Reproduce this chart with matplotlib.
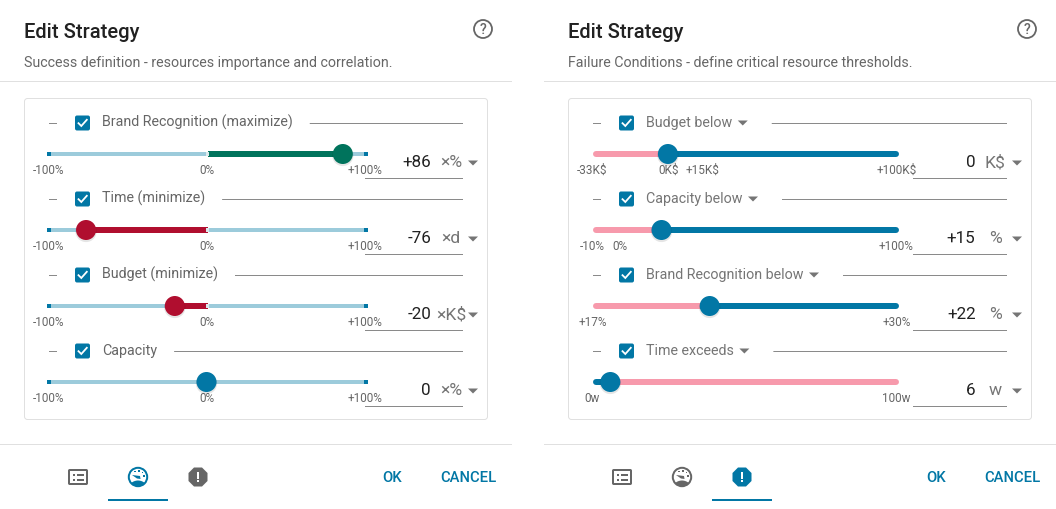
import matplotlib
matplotlib.use("Agg")
import matplotlib.pyplot as plt
from matplotlib.patches import FancyBboxPatch, Circle, Polygon, Rectangle, Wedge

plt.rcParams['font.family'] = ['Roboto', 'DejaVu Sans']

# ---- data ----
left_subtitle = "Success definition - resources importance and correlation."
right_subtitle = "Failure Conditions - define critical resource thresholds."

left_labels = ["Brand Recognition (maximize)", "Time (minimize)", "Budget (minimize)", "Capacity"]
left_values = [86, -76, -20, 0]
left_value_text = ["+86", "-76", "-20", "0"]
left_units = ["×%", "×d", "×K$", "×%"]
left_min = -100
left_max = 100
left_ticks = [-100, 0, 100]
left_tick_labels = ["-100%", "0%", "+100%"]

right_labels = ["Budget below", "Capacity below", "Brand Recognition below", "Time exceeds"]
right_values = [0, 15, 22, 6]
right_value_text = ["0", "+15", "+22", "6"]
right_units = ["K$", "%", "%", "w"]
right_mins = [-33, -10, 17, 0]
right_maxs = [100, 100, 30, 100]
right_ticks = [[-33, 0, 15, 100], [-10, 0, 100], [17, 30], [0, 100]]
right_tick_labels = [["-33K$", "0K$", "+15K$", "+100K$"], ["-10%", "0%", "+100%"],
                     ["+17%", "+30%"], ["0w", "100w"]]
right_reversed = [False, False, False, True]

BLUE = "#0277A5"; LIGHT = "#9CCBDB"; GREEN = "#00735C"; RED = "#B00E2F"; PINK = "#F79AAC"
DARK = "#212121"; GREY = "#666666"; MID = "#757575"; RULE = "#E0E0E0"; LINE = "#8A8A8A"

fig = plt.figure(figsize=(10.56, 5.09), dpi=100, facecolor="white")
ax = fig.add_axes([0, 0, 1, 1])
ax.set_xlim(0, 1056); ax.set_ylim(509, 0); ax.axis("off")
PX = 0.72


def txt(x, y, s, size, color=GREY, ha="left", weight="normal", **kw):
    return ax.text(x, y, s, fontsize=size * PX, color=color, ha=ha, va="center",
                   fontweight=weight, **kw)


def pixel_rule(x0, x1, row, color=LINE, z=1, h=1):
    r = Rectangle((x0, row), x1 - x0, h, fc=color, ec="none", zorder=z)
    r.set_snap(False)
    ax.add_patch(r)


def hline(x0, x1, y, color=LINE, lw=1.0, z=1, cap="butt"):
    ax.plot([x0, x1], [y, y], color=color, lw=lw * PX, solid_capstyle=cap, zorder=z)


def tri(cx, cy, color=MID):
    ax.add_patch(Polygon([(cx - 5, cy - 2.5), (cx + 5, cy - 2.5), (cx, cy + 2.5)],
                         fc=color, ec="none", zorder=3))


def checkbox(x, y):
    ax.add_patch(FancyBboxPatch((x + 1, y - 6.5), 13, 13, boxstyle="round,pad=1,rounding_size=2",
                                fc=BLUE, ec="none", zorder=3))
    ax.plot([x + 3.5, x + 6.3, x + 11.8], [y + 0.2, y + 3, y - 3.2], color="white",
            lw=1.8 * PX, zorder=4, solid_joinstyle="miter")


def thumb(x, y, color):
    ax.add_patch(Circle((x, y + 1.5), 10.6, fc="#000000", ec="none", alpha=0.10, zorder=5))
    ax.add_patch(Circle((x, y), 10, fc=color, ec="none", zorder=6))


def form_icon(cx, cy, c):
    ax.add_patch(FancyBboxPatch((cx - 9, cy - 7), 18, 14, boxstyle="round,pad=0,rounding_size=0.8",
                                fc="white", ec=c, lw=2 * PX, zorder=3))
    for yy in (-2, 2.5):
        hline(cx - 5.5, cx - 3.5, cy + yy, c, 2, 4)
        hline(cx - 1.5, cx + 5.5, cy + yy, c, 2, 4)


def gauge_icon(cx, cy, c):
    ring = Circle((cx, cy), 9.2, fc="white", ec=c, lw=2 * PX, zorder=3)
    ax.add_patch(ring)
    hill = Wedge((cx, cy + 14), 10.5, 225, 315, fc=c, ec="none", zorder=4)
    ax.add_patch(hill)
    hill.set_clip_path(Circle((cx, cy), 9.2, transform=ax.transData))
    ax.add_patch(Polygon([(cx - 6, cy - 2), (cx + 2, cy - 1), (cx + 2.5, cy + 2), (cx - 1, cy + 1.5)],
                         fc=c, ec="none", zorder=4))
    for dx, dy in [(-3, -5.5), (1, -6), (4.5, -4.5), (6, -1)]:
        ax.add_patch(Rectangle((cx + dx - .7, cy + dy - .7), 1.4, 1.4, fc=c, ec="none", zorder=4))


def alert_icon(cx, cy, c):
    r = 9.5; k = 4.0
    ax.add_patch(Polygon([(cx - k, cy - r), (cx + k, cy - r), (cx + r, cy - k), (cx + r, cy + k),
                          (cx + k, cy + r), (cx - k, cy + r), (cx - r, cy + k), (cx - r, cy - k)],
                         fc=c, ec="none", zorder=3))
    ax.add_patch(Rectangle((cx - 1, cy - 5.5), 2, 7, fc="white", ec="none", zorder=4))
    ax.add_patch(Rectangle((cx - 1, cy + 3), 2, 2, fc="white", ec="none", zorder=4))


def panel(x0, subtitle, active):
    txt(x0 + 24, 32.5, "Edit Strategy", 20.2, DARK, weight="medium")
    txt(x0 + 24, 62.5, subtitle, 14.3, GREY)
    ax.add_patch(Circle((x0 + 483, 29), 9, fc="white", ec=GREY, lw=1.8 * PX, zorder=2))
    txt(x0 + 483, 29.5, "?", 14, GREY, ha="center", weight="medium", zorder=3)
    pixel_rule(x0, x0 + 512, 81, RULE)
    pixel_rule(x0, x0 + 512, 444, RULE)
    ax.add_patch(FancyBboxPatch((x0 + 24.5, 98.5), 463, 321, boxstyle="round,pad=0,rounding_size=3",
                                fc="white", ec=RULE, lw=1 * PX, zorder=0))
    for i, fn in enumerate([form_icon, gauge_icon, alert_icon]):
        fn(x0 + 78 + 60 * i, 477, BLUE if i == active else GREY)
    ax.add_patch(Rectangle((x0 + 48 + 60 * active, 499), 60, 2, fc=BLUE, ec="none"))
    txt(x0 + 392.5, 477.5, "OK", 14.8, BLUE, ha="center", weight="medium")
    txt(x0 + 468.5, 477.5, "CANCEL", 14.8, BLUE, ha="center", weight="medium")


def text_width(s, size, weight="normal"):
    t = txt(0, 0, s, size, weight=weight)
    w = t.get_window_extent(fig.canvas.get_renderer()).width
    t.remove()
    return w


def row_common(x0, i, label, has_arrow, color):
    y = 122 + 76 * i
    pixel_rule(x0 + 49, x0 + 57, y + 1, LINE)
    checkbox(x0 + 75, y + 1)
    txt(x0 + 102, y + 0.8, label, 14.3, color)
    xe = x0 + 102 + text_width(label, 14.3)
    if has_arrow:
        tri(xe + 10.5, y + 1)
        xe += 22.5
    pixel_rule(xe + 17, x0 + 463, y + 1, LINE)


def value_box(x0, i, u0, val, unit, text_right, unit_x):
    y = 154 + 76 * i
    txt(x0 + text_right, y + 8.8, val, 17, DARK, ha="right")
    txt(x0 + unit_x, y + 8.8, unit, 17.5, MID, ha="center")
    tri(x0 + 473, y + 9)
    pixel_rule(x0 + u0, x0 + 463, y + 24, LINE)


# ---- left panel ----
panel(0, left_subtitle, 1)
LX0, LX1 = 49, 366
lsc = lambda v: LX0 + (v - left_min) / (left_max - left_min) * (LX1 - LX0)
left_colors = [GREEN if v > 0 else RED if v < 0 else BLUE for v in left_values]
for i, lab in enumerate(left_labels):
    row_common(0, i, lab, False, GREY)
    y = 154 + 76 * i
    hline(lsc(left_min), lsc(left_max), y, LIGHT, 4, 2)
    v = left_values[i]
    hline(lsc(0), lsc(v), y, left_colors[i], 6 if v else 0.01, 3)
    for e in (left_min, left_max):
        ax.add_patch(Rectangle((lsc(e) - 2, y - 2), 4, 4, fc=BLUE, ec="none", zorder=3))
    ax.add_patch(Rectangle((lsc(0) - 1.5, y - 2), 3, 4, fc="#DCE9EC", ec="none", zorder=3))
    thumb(lsc(v) - 1, y, left_colors[i])
    for t, tl in zip(left_ticks, left_tick_labels):
        txt(lsc(t) - 0.7, y + 16.5, tl, 11.8, GREY, ha="center")
    value_box(0, i, 365, left_value_text[i], left_units[i], 431, 451)

# ---- right panel ----
panel(544, right_subtitle, 2)
RX0, RX1 = 593, 899
for i, lab in enumerate(right_labels):
    row_common(544, i, lab, True, MID)
    y = 154 + 76 * i
    mn, mx, v = right_mins[i], right_maxs[i], right_values[i]
    sc = lambda a: RX0 + (a - mn) / (mx - mn) * (RX1 - RX0)
    c0, c1 = (BLUE, PINK) if right_reversed[i] else (PINK, BLUE)
    hline(sc(mn) + 3, sc(v), y, c0, 6, 2, "round")
    hline(sc(v), sc(mx) - 3, y, c1, 6, 2, "round")
    thumb(sc(v) - 1, y, BLUE)
    for t, tl in zip(right_ticks[i], right_tick_labels[i]):
        xx = sc(t)
        if t == mx:
            xx -= 2
        txt(xx - 0.5, y + 16.5, tl, 11.8, GREY, ha="center")
    value_box(544, i, 369, right_value_text[i], right_units[i], 431.5, 451)

fig.savefig("out.png", dpi=100, facecolor="white")
